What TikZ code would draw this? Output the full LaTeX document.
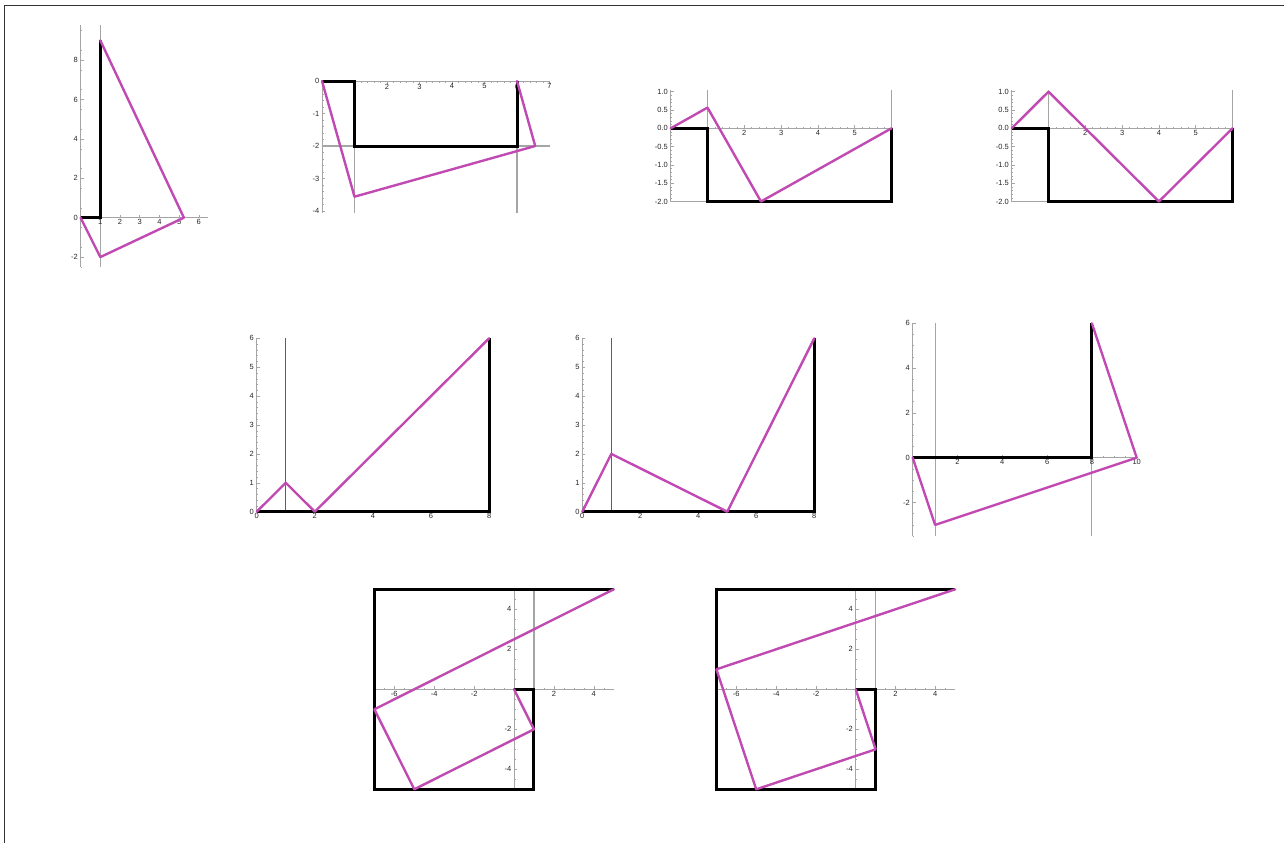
\documentclass[tikz,border=0pt]{standalone}
\usepackage{fontspec}
\setmainfont{Liberation Sans}
\usetikzlibrary{positioning}
\definecolor{foldmag}{RGB}{192,74,178}
\definecolor{axisgray}{RGB}{165,165,165}
\definecolor{griddark}{RGB}{95,95,95}

\begin{document}
\begin{tikzpicture}[x=1pt, y=1pt,
    axisline/.style={draw=axisgray, line width=0.8pt},
    gridline/.style={draw=axisgray, line width=1.1pt},
    tickmark/.style={draw=axisgray, line width=0.5pt},
    crease/.style={draw=black, line width=3pt},
    fold/.style={draw=foldmag, line width=2.4pt, line join=round, line cap=round},
    ticklbl/.style={font=\fontsize{7.5}{8}\selectfont, text=black!85, inner sep=0.6pt},
]
\useasboundingbox (0,0) rectangle (1284,-843);

% Frame
\draw[black!80, line width=0.8pt] (4,-843) -- (4,-5) -- (1284,-5);

% Plot 1: tall triangle
\begin{scope}[shift={(80.6,-217.7)}, x=19.7pt, y=19.7pt]
  \draw[gridline] (1,-2.5) -- (1,9.8);
  \draw[axisline] (0,0) -- (6.45,0);
  \draw[axisline] (0,-2.5) -- (0,9.8);
  \foreach \t in {1,...,6} {
    \draw[tickmark] (\t,0) -- ++(0,3pt);
    \node[ticklbl, below=1pt] (p1x\t) at (\t,0) {\t};
  }
  \foreach \t in {-2,0,...,8} {
    \draw[tickmark] (0,\t) -- ++(3pt,0);
    \node[ticklbl, left=2pt] (p1y\t) at (0,\t) {\t};
  }
  \foreach \m in {-2.5,-1.5,...,9.5} \draw[tickmark] (0,\m) -- ++(1.5pt,0);
  \draw[crease] (0,0) -- (1,0) -- (1,9);
  \draw[fold] (1,9) -- (5.243,0) -- (1,-2) -- (0,0);
\end{scope}

% Plot 2: folded rectangle
\begin{scope}[shift={(322,-81)}, x=32.5pt, y=32.5pt]
  \draw[gridline] (1,-4.05) -- (1,0);
  \draw[gridline] (6,-4.05) -- (6,0);
  \draw[gridline] (0,-2) -- (7,-2);
  \draw[axisline] (0,0) -- (7,0);
  \draw[axisline] (0,-4.05) -- (0,0);
  \foreach \t in {2,...,7} {
    \draw[tickmark] (\t,0) -- ++(0,-3pt);
    \node[ticklbl, below=2pt] (p2x\t) at (\t,0) {\t};
  }
  \foreach \t in {0,-1,...,-4} {
    \draw[tickmark] (0,\t) -- ++(3pt,0);
    \node[ticklbl, left=2pt] (p2y\t) at (0,\t) {\t};
  }
  \foreach \m in {0.2,0.4,...,6.9} \draw[tickmark] (\m,0) -- ++(0,-1.5pt);
  \foreach \m in {-0.2,-0.4,...,-3.9} \draw[tickmark] (0,\m) -- ++(1.5pt,0);
  \draw[crease] (0,0) -- (1,0) -- (1,-2) -- (6,-2) -- (6,0);
  \draw[fold] (0,0) -- (1,-3.56) -- (6.56,-2) -- (6,0);
\end{scope}

% Plot 3: shallow zigzag
\begin{scope}[shift={(670.7,-128.3)}, x=36.8pt, y=36.6pt]
  \draw[gridline] (1,0) -- (1,1.05);
  \draw[gridline, line width=1.8pt] (6,0) -- (6,1.05);
  \draw[gridline] (0,-2) -- (6,-2);
  \draw[axisline] (0,0) -- (6,0);
  \draw[axisline] (0,-2) -- (0,1.05);
  \foreach \t in {2,...,5} {
    \draw[tickmark] (\t,0) -- ++(0,3pt);
    \node[ticklbl, below=1pt] (p3x\t) at (\t,0) {\t};
  }
  \foreach \v/\t in {1/1.0, 0.5/0.5, 0/0.0, -0.5/-0.5, -1/-1.0, -1.5/-1.5, -2/-2.0} {
    \draw[tickmark] (0,\v) -- ++(3pt,0);
    \node[ticklbl, left=2pt] (p3y\t) at (0,\v) {\t};
  }
  \foreach \m in {0.2,0.4,...,5.9} \draw[tickmark] (\m,0) -- ++(0,1.5pt);
  \foreach \m in {-1.9,-1.8,...,0.95} \draw[tickmark] (0,\m) -- ++(1.5pt,0);
  \draw[crease] (0,0) -- (1,0) -- (1,-2) -- (6,-2) -- (6,0);
  \draw[fold] (0,0) -- (1,0.566) -- (2.452,-2) -- (6,0);
\end{scope}

% Plot 4: full zigzag
\begin{scope}[shift={(1011.7,-128.3)}, x=36.8pt, y=36.6pt]
  \draw[gridline] (1,0) -- (1,1.05);
  \draw[gridline, line width=1.8pt] (6,0) -- (6,1.05);
  \draw[gridline] (0,-2) -- (6,-2);
  \draw[axisline] (0,0) -- (6,0);
  \draw[axisline] (0,-2) -- (0,1.05);
  \foreach \t in {2,...,5} {
    \draw[tickmark] (\t,0) -- ++(0,3pt);
    \node[ticklbl, below=1pt] (p4x\t) at (\t,0) {\t};
  }
  \foreach \v/\t in {1/1.0, 0.5/0.5, 0/0.0, -0.5/-0.5, -1/-1.0, -1.5/-1.5, -2/-2.0} {
    \draw[tickmark] (0,\v) -- ++(3pt,0);
    \node[ticklbl, left=2pt] (p4y\t) at (0,\v) {\t};
  }
  \foreach \m in {0.2,0.4,...,5.9} \draw[tickmark] (\m,0) -- ++(0,1.5pt);
  \foreach \m in {-1.9,-1.8,...,0.95} \draw[tickmark] (0,\m) -- ++(1.5pt,0);
  \draw[crease] (0,0) -- (1,0) -- (1,-2) -- (6,-2) -- (6,0);
  \draw[fold] (0,0) -- (1,1) -- (4,-2) -- (6,0);
\end{scope}

% Plot 5: small peak then long rise
\begin{scope}[shift={(256.7,-511.7)}, x=29.05pt, y=28.9pt]
  \draw[gridline, draw=griddark] (1,0) -- (1,6);
  \draw[axisline] (0,0) -- (0,6);
  \foreach \t in {0,2,...,8} \node[ticklbl, below=1pt] (p5x\t) at (\t,0) {\t};
  \foreach \t in {0,...,6} {
    \draw[tickmark] (0,\t) -- ++(3pt,0);
    \node[ticklbl, left=2pt] (p5y\t) at (0,\t) {\t};
  }
  \foreach \m in {0.2,0.4,...,5.9} \draw[tickmark] (0,\m) -- ++(1.5pt,0);
  \draw[crease] (0,0) -- (8,0) -- (8,6);
  \draw[fold] (0,0) -- (1,1) -- (2,0) -- (8,6);
\end{scope}

% Plot 6: higher peak, later valley
\begin{scope}[shift={(582.3,-511.7)}, x=29pt, y=28.9pt]
  \draw[gridline, draw=griddark] (1,0) -- (1,6);
  \draw[axisline] (0,0) -- (0,6);
  \foreach \t in {0,2,...,8} \node[ticklbl, below=1pt] (p6x\t) at (\t,0) {\t};
  \foreach \t in {0,...,6} {
    \draw[tickmark] (0,\t) -- ++(3pt,0);
    \node[ticklbl, left=2pt] (p6y\t) at (0,\t) {\t};
  }
  \foreach \m in {0.2,0.4,...,5.9} \draw[tickmark] (0,\m) -- ++(1.5pt,0);
  \draw[crease] (0,0) -- (8,0) -- (8,6);
  \draw[fold] (0,0) -- (1,2) -- (5,0) -- (8,6);
\end{scope}

% Plot 7: right-angled fold below the axis
\begin{scope}[shift={(912.7,-457.7)}, x=22.4pt, y=22.4pt]
  \draw[gridline] (1,-3.5) -- (1,6);
  \draw[gridline] (8,-3.5) -- (8,6);
  \draw[axisline] (0,0) -- (10,0);
  \draw[axisline] (0,-3.5) -- (0,6);
  \foreach \t in {2,4,...,10} {
    \draw[tickmark] (\t,0) -- ++(0,3pt);
    \node[ticklbl, below=1pt] (p7x\t) at (\t,0) {\t};
  }
  \foreach \t in {-2,0,...,6} {
    \draw[tickmark] (0,\t) -- ++(3pt,0);
    \node[ticklbl, left=2pt] (p7y\t) at (0,\t) {\t};
  }
  \foreach \m in {0.5,1,...,9.9} \draw[tickmark] (\m,0) -- ++(0,1.5pt);
  \foreach \m in {-3.5,-3,...,5.9} \draw[tickmark] (0,\m) -- ++(1.5pt,0);
  \draw[crease] (0,0) -- (8,0) -- (8,6);
  \draw[fold] (0,0) -- (1,-3) -- (10,0) -- (8,6);
\end{scope}

% Plot 8: spiral frame, first fold
\begin{scope}[shift={(514,-689.3)}, x=19.95pt, y=20pt]
  \draw[gridline] (1,-5) -- (1,5);
  \draw[axisline] (-7,0) -- (5,0);
  \draw[axisline] (0,-5) -- (0,5);
  \foreach \t in {-6,-4,-2,2,4} {
    \draw[tickmark] (\t,0) -- ++(0,3pt);
    \node[ticklbl, below=1pt] (p8x\t) at (\t,0) {\t};
  }
  \foreach \t in {-4,-2,2,4} {
    \draw[tickmark] (0,\t) -- ++(3pt,0);
    \node[ticklbl, left=2pt] (p8y\t) at (0,\t) {\t};
  }
  \foreach \m in {-6.5,-6,...,4.9} \draw[tickmark] (\m,0) -- ++(0,1.5pt);
  \foreach \m in {-4.5,-4,...,4.9} \draw[tickmark] (0,\m) -- ++(1.5pt,0);
  \draw[crease] (0,0) -- (1,0) -- (1,-5) -- (-7,-5) -- (-7,5) -- (5,5);
  \draw[fold] (0,0) -- (1,-2) -- (-5,-5) -- (-7,-1) -- (5,5);
\end{scope}

% Plot 9: spiral frame, second fold
\begin{scope}[shift={(855.7,-689.3)}, x=19.9pt, y=20pt]
  \draw[gridline] (1,-5) -- (1,5);
  \draw[axisline] (-7,0) -- (5,0);
  \draw[axisline] (0,-5) -- (0,5);
  \foreach \t in {-6,-4,-2,2,4} {
    \draw[tickmark] (\t,0) -- ++(0,3pt);
    \node[ticklbl, below=1pt] (p9x\t) at (\t,0) {\t};
  }
  \foreach \t in {-4,-2,2,4} {
    \draw[tickmark] (0,\t) -- ++(3pt,0);
    \node[ticklbl, left=2pt] (p9y\t) at (0,\t) {\t};
  }
  \foreach \m in {-6.5,-6,...,4.9} \draw[tickmark] (\m,0) -- ++(0,1.5pt);
  \foreach \m in {-4.5,-4,...,4.9} \draw[tickmark] (0,\m) -- ++(1.5pt,0);
  \draw[crease] (0,0) -- (1,0) -- (1,-5) -- (-7,-5) -- (-7,5) -- (5,5);
  \draw[fold] (0,0) -- (1,-3) -- (-5,-5) -- (-7,1) -- (5,5);
\end{scope}

\end{tikzpicture}
\end{document}
